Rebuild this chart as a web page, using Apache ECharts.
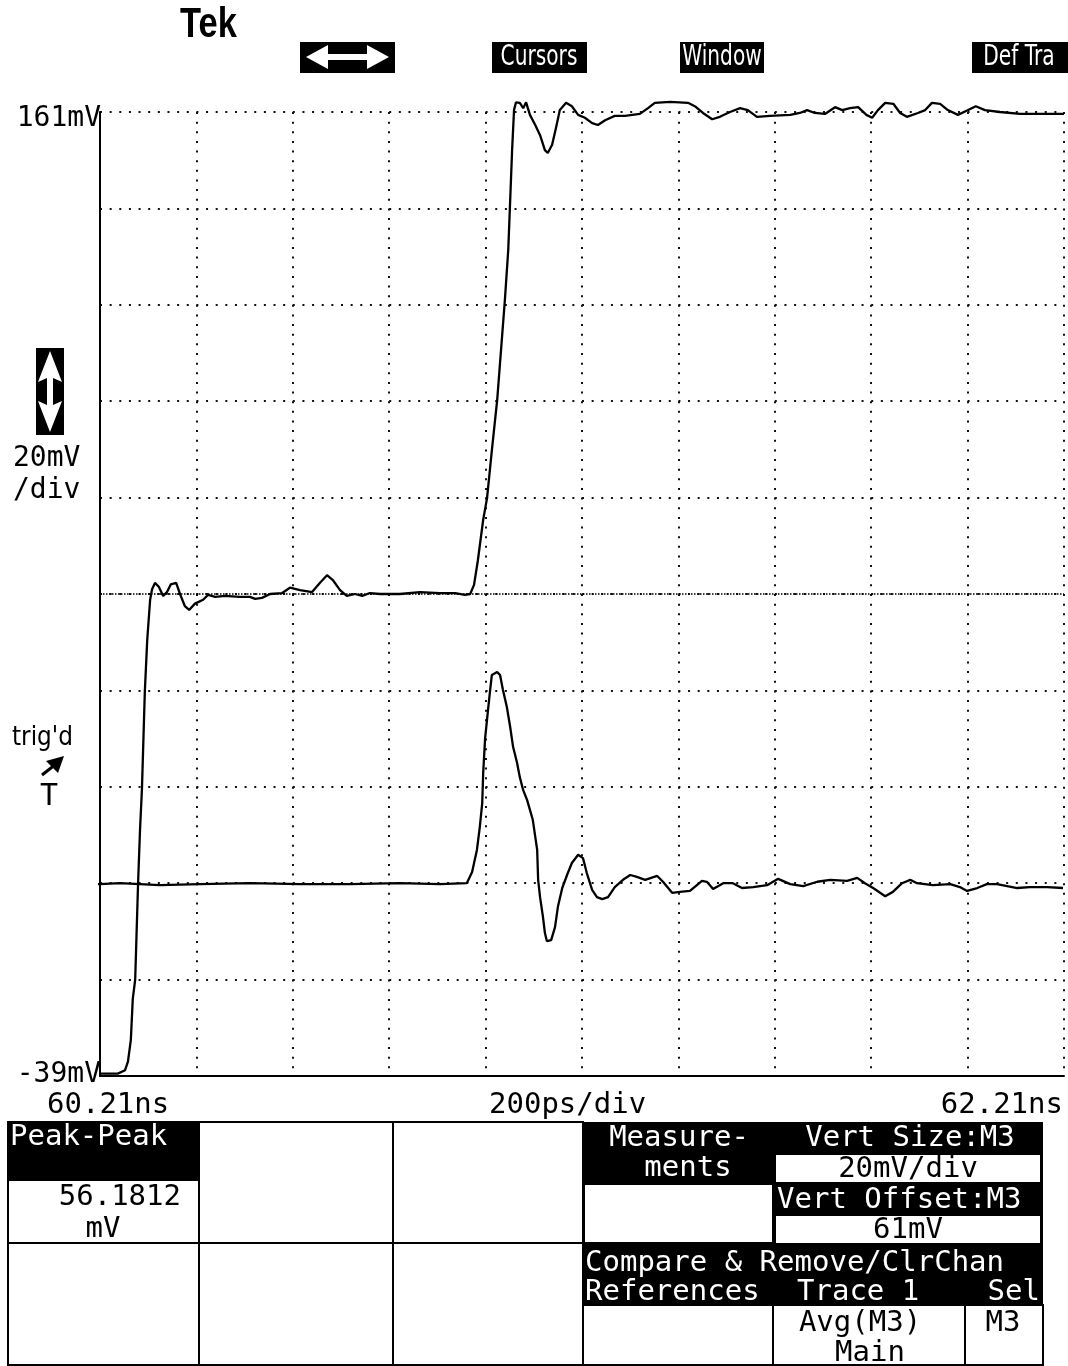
<!DOCTYPE html>
<html>
<head>
<meta charset="utf-8">
<script src="https://cdn.jsdelivr.net/npm/echarts@6/dist/echarts.min.js"></script>
<style>
html,body{margin:0;padding:0;background:#fff;}
#chart{width:1068px;height:1366px;}
</style>
</head>
<body>
<div id="chart"></div>
<script>
// time in ps after 60.21 ns, value in mV
const upperTrace = [[0,-38.5],[37,-38.5],[52,-37.8],[58,-36],[64,-31.5],[68,-23],[73,-19],[79,1],[83,12],[87,20.5],[93,40.7],[98,51.5],[104,59.8],[108,62],[114,63.3],[122,62.5],[131,60.6],[139,61.4],[147,63],[158,63.3],[166,61],[176,58.5],[185,57.7],[197,59],[214,59.8],[224,60.8],[239,60.4],[259,60.6],[290,60.4],[311,60.4],[322,60],[336,60.2],[353,61],[378,61.2],[394,62.3],[415,61.8],[440,61.4],[456,63.3],[471,64.9],[483,63.9],[498,61.8],[512,60.6],[529,61],[544,60.6],[560,61.2],[581,61],[622,61],[664,61.4],[705,61.2],[737,61.2],[757,60.8],[768,61],[776,62.9],[784,68],[795,76.4],[803,80.9],[813,90.8],[824,101.2],[832,111.6],[840,122],[847,132.4],[851,142.7],[855,153.1],[859,161.4],[863,163],[871,162.9],[878,161.8],[884,163],[892,160.4],[903,158.3],[913,156.2],[923,153.1],[929,152.5],[938,154.2],[946,157.7],[954,161.4],[967,162.9],[979,162.2],[992,160.4],[1006,159.8],[1021,158.7],[1033,158.3],[1048,159.3],[1068,160.2],[1089,160.2],[1120,160.6],[1137,161.8],[1151,162.9],[1183,163.1],[1220,162.9],[1234,162.2],[1251,160.8],[1270,159.5],[1286,160],[1307,161],[1328,161.8],[1344,161.4],[1363,160],[1390,160.2],[1432,160.4],[1452,160.8],[1467,161.4],[1483,160.8],[1504,160.6],[1525,162],[1540,161.4],[1556,161.8],[1573,162],[1590,160.4],[1602,159.8],[1614,161.4],[1629,162.9],[1646,162.7],[1660,160.8],[1674,160],[1697,160.8],[1712,161.4],[1726,162.9],[1743,162.7],[1759,161.4],[1780,160.4],[1801,161.4],[1817,162.2],[1836,161.4],[1867,161],[1909,160.6],[1950,160.6],[2000,160.6]];

const lowerTrace = [[-29,0.8],[0,0.8],[41,1.0],[124,0.6],[207,0.8],[311,1.0],[415,0.8],[519,0.8],[622,1.0],[705,0.8],[761,1.0],[772,3.3],[782,7.9],[788,12.7],[793,17.6],[795,23.9],[799,31.1],[805,36.9],[809,40.7],[813,44.2],[824,44.8],[830,44.2],[836,41.1],[844,37.6],[851,33.4],[857,29.3],[865,26.1],[871,23.0],[878,20.3],[886,18.3],[892,16.2],[898,14.1],[907,7.9],[909,1.7],[913,-1.9],[919,-6.0],[923,-9.3],[927,-11.0],[936,-10.8],[944,-8.1],[950,-3.9],[959,0.0],[969,2.7],[979,5.2],[992,6.9],[1002,6.2],[1010,3.1],[1021,-0.4],[1031,-1.9],[1042,-2.3],[1054,-1.9],[1068,0.2],[1085,1.7],[1100,2.7],[1114,2.3],[1131,1.7],[1156,2.5],[1168,1.3],[1187,-1.0],[1203,-0.8],[1224,-0.6],[1249,1.5],[1259,1.3],[1272,-0.2],[1293,1.0],[1313,1.0],[1332,0.0],[1355,0.2],[1384,0.6],[1407,1.9],[1432,0.8],[1459,0.4],[1488,1.3],[1515,1.7],[1550,1.5],[1571,2.1],[1587,1.0],[1604,0.0],[1629,-1.7],[1645,-0.8],[1664,1.0],[1681,1.7],[1695,1.0],[1728,0.6],[1764,0.8],[1784,0.2],[1799,-0.6],[1820,0.0],[1840,0.8],[1861,0.8],[1882,0.4],[1903,0.0],[1929,0.2],[1965,0.2],[1998,0.0]];

const centerLevel = 61; // mV (vertical offset)
const xTickLabels = ['60.21ns', '200ps/div', '62.21ns'];
const yTickLabels = ['161mV', '-39mV'];
const vScaleLabels = ['20mV', '/div'];
const measurement = {name: 'Peak-Peak', value: '56.1812', unit: 'mV'};

const MONO = "'DejaVu Sans Mono','Liberation Mono',monospace";
const SANS = "'DejaVu Sans','Liberation Sans',sans-serif";

function txt(x, y, text, size, opts) {
  opts = opts || {};
  return {
    type: 'text', x: x, y: y, z: 100,
    scaleX: opts.sx || 1,
    style: {
      text: text,
      fill: opts.fill || '#000',
      font: (opts.weight || 'normal') + ' ' + size + 'px ' + (opts.family || MONO),
      textAlign: opts.align || 'left',
      textVerticalAlign: 'middle'
    }
  };
}
function rect(x, y, w, h, fill, stroke, lw) {
  return {type: 'rect', z: 50, shape: {x: x, y: y, width: w, height: h},
    style: {fill: fill || 'none', stroke: stroke || null, lineWidth: lw || 0}};
}
function line(x1, y1, x2, y2, lw) {
  return {type: 'line', z: 60, shape: {x1: x1, y1: y1, x2: x2, y2: y2},
    style: {stroke: '#000', lineWidth: lw || 2}};
}
function poly(points, fill) {
  return {type: 'polygon', z: 110, shape: {points: points}, style: {fill: fill}};
}

const graphics = [
  // header
  txt(180, 25, 'Tek', 42, {weight: 'bold', family: "'Liberation Sans','DejaVu Sans',sans-serif", sx: 0.82}),
  rect(300, 42, 95, 31, '#000'),
  poly([[306,57],[328,45],[328,54],[367,54],[367,45],[389,57],[367,69],[367,60],[328,60],[328,69]], '#fff'),
  rect(492, 42, 95, 31, '#000'),
  txt(539, 58, 'Cursors', 28, {fill: '#fff', family: SANS, align: 'center', sx: 0.72}),
  rect(680, 42, 84, 31, '#000'),
  txt(722, 58, 'Window', 28, {fill: '#fff', family: SANS, align: 'center', sx: 0.72}),
  rect(972, 42, 96, 31, '#000'),
  txt(1019, 58, 'Def Tra', 28, {fill: '#fff', family: SANS, align: 'center', sx: 0.72}),

  // left side labels
  txt(101, 119, yTickLabels[0], 28, {align: 'right'}),
  txt(101, 1075, yTickLabels[1], 28, {align: 'right'}),
  rect(36, 348, 28, 87, '#000'),
  poly([[50,351],[38,382],[47,378],[47,405],[38,401],[50,432],[62,401],[53,405],[53,378],[62,382]], '#fff'),
  txt(13, 459, vScaleLabels[0], 28),
  txt(13, 491, vScaleLabels[1], 28),
  txt(12, 738, "trig'd", 27, {family: SANS, sx: 0.86}),
  {type: 'line', z: 110, shape: {x1: 42, y1: 775, x2: 56, y2: 764}, style: {stroke: '#000', lineWidth: 3}},
  poly([[64,756],[46,761],[58,773]], '#000'),
  txt(49, 797, 'T', 30, {align: 'center'}),

  // time labels
  txt(47, 1105, xTickLabels[0], 29),
  txt(489, 1105, xTickLabels[1], 29),
  txt(1063, 1105, xTickLabels[2], 29, {align: 'right'}),

  // bottom-left measurement table
  rect(8, 1122, 191, 59, '#000'),
  rect(8, 1122, 575, 243, 'none', '#000', 2),
  line(199, 1122, 199, 1365),
  line(393, 1122, 393, 1365),
  line(8, 1243, 583, 1243),
  txt(10, 1137, measurement.name, 29, {fill: '#fff'}),
  txt(181, 1197, measurement.value, 29, {align: 'right'}),
  txt(103, 1229, measurement.unit, 29, {align: 'center'}),

  // bottom-right menu
  rect(583, 1122, 460, 123, '#000'),
  rect(585, 1185, 187, 57, '#fff'),
  rect(776, 1155, 264, 27, '#fff'),
  rect(776, 1216, 264, 27, '#fff'),
  rect(583, 1245, 460, 60, '#000'),
  rect(583, 1305, 460, 60, 'none', '#000', 2),
  line(773, 1305, 773, 1365),
  line(965, 1305, 965, 1365),
  txt(679, 1138, 'Measure-', 29, {fill: '#fff', align: 'center'}),
  txt(688, 1168, 'ments', 29, {fill: '#fff', align: 'center'}),
  txt(910, 1138, 'Vert Size:M3', 29, {fill: '#fff', align: 'center'}),
  txt(908, 1169, '20mV/div', 29, {align: 'center'}),
  txt(777, 1200, 'Vert Offset:M3', 29, {fill: '#fff'}),
  txt(908, 1230, '61mV', 29, {align: 'center'}),
  txt(585, 1263, 'Compare & Remove/ClrChan', 29, {fill: '#fff'}),
  txt(585, 1292, 'References', 29, {fill: '#fff'}),
  txt(797, 1292, 'Trace 1', 29, {fill: '#fff'}),
  txt(1040, 1292, 'Sel', 29, {fill: '#fff', align: 'right'}),
  txt(860, 1323, 'Avg(M3)', 29, {align: 'center'}),
  txt(870, 1353, 'Main', 29, {align: 'center'}),
  txt(1003, 1323, 'M3', 29, {align: 'center'})
];

const chart = echarts.init(document.getElementById('chart'), null, {renderer: 'canvas'});
chart.setOption({
  animation: false,
  backgroundColor: '#fff',
  grid: {left: 100, top: 112, width: 964, height: 964, containLabel: false},
  xAxis: {
    type: 'value', min: 0, max: 2000, interval: 200,
    axisLine: {show: true, onZero: false, lineStyle: {color: '#000', width: 2}},
    axisTick: {show: false}, axisLabel: {show: false},
    splitLine: {show: true, lineStyle: {color: '#111', width: 2, type: [2, 7.64]}}
  },
  yAxis: {
    type: 'value', min: -39, max: 161, interval: 20,
    axisLine: {show: true, onZero: false, lineStyle: {color: '#000', width: 2}},
    axisTick: {show: false}, axisLabel: {show: false},
    splitLine: {show: true, lineStyle: {color: '#111', width: 2, type: [2, 7.64]}}
  },
  series: [
    {
      type: 'line', data: upperTrace, symbol: 'none', clip: false,
      lineStyle: {color: '#000', width: 2.3},
      markLine: {
        silent: true, symbol: ['none', 'none'], label: {show: false},
        lineStyle: {color: '#000', width: 1.5, type: [1.5, 1.5]},
        data: [{yAxis: centerLevel}]
      }
    },
    {
      type: 'line', data: lowerTrace, symbol: 'none', clip: false,
      lineStyle: {color: '#000', width: 2.3}
    }
  ],
  graphic: graphics
});
</script>
</body>
</html>
